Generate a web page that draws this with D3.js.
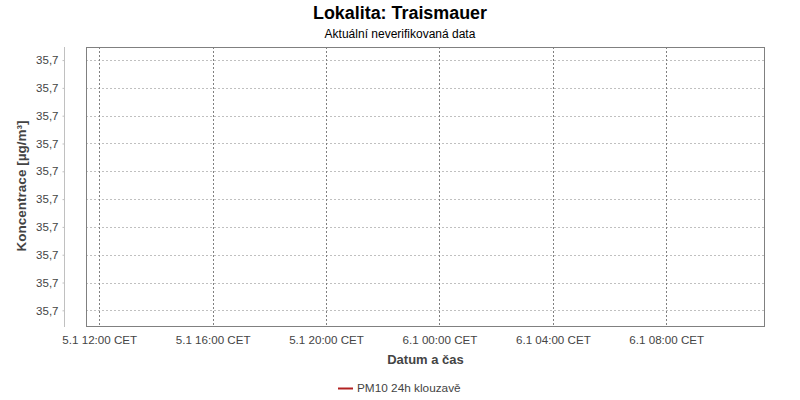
<!DOCTYPE html>
<html><head><meta charset="utf-8">
<script src="https://cdn.jsdelivr.net/npm/d3@7"></script>
<style>body{margin:0;background:#fff}svg{display:block;font-family:"Liberation Sans",Arial,sans-serif}</style>
</head><body><svg id="c" width="800" height="400"></svg>
<script>
const titleText = "Lokalita: Traismauer";
const subtitleText = "Aktuální neverifikovaná data";
const xTitle = "Datum a čas";
const yTitle = "Koncentrace [µg/m³]";
const seriesName = "PM10 24h klouzavě";
const timeStart = "2024-01-05T11:32:00";
const timeEnd = "2024-01-06T11:29:00";
const xTicks = ["2024-01-05T12:00:00","2024-01-05T16:00:00","2024-01-05T20:00:00","2024-01-06T00:00:00","2024-01-06T04:00:00","2024-01-06T08:00:00"];
const times = ["2024-01-06T11:00:00"];
const values = [35.7];
const yTicks = [35.6996,35.6997,35.6998,35.6999,35.7,35.7001,35.7002,35.7003,35.7004,35.7005];
const yDomain = [35.69954, 35.700547];

const svg = d3.select("#c");
const L = 86, R = 765, T = 47, B = 327;
const parse = d3.isoParse;
const x = d3.scaleTime().domain([parse(timeStart), parse(timeEnd)]).range([L, R]);
const y = d3.scaleLinear().domain(yDomain).range([B, T]);
const loc = d3.formatLocale({decimal: ",", thousands: " ", grouping: [3], currency: ["", ""]});
const yfmt = loc.format(".1f");
const xfmt = d => d.getDate() + "." + (d.getMonth() + 1) + " " + d3.timeFormat("%H:%M")(d) + " CET";

// title
svg.append("text").attr("x", 400).attr("y", 19).attr("text-anchor", "middle")
  .attr("font-size", 18).attr("font-weight", "bold").attr("fill", "#000")
  .attr("textLength", 174).attr("lengthAdjust", "spacingAndGlyphs").text(titleText);
svg.append("text").attr("x", 400).attr("y", 38).attr("text-anchor", "middle")
  .attr("font-size", 12).attr("fill", "#000").text(subtitleText);

// grid
const g = svg.append("g");
g.selectAll("line.h").data(yTicks).join("line")
  .attr("x1", L).attr("x2", R).attr("y1", d => Math.round(y(d)) + 0.5).attr("y2", d => Math.round(y(d)) + 0.5)
  .attr("stroke", "#c0c0c0").attr("stroke-dasharray", "2,2").attr("stroke-width", 1);
g.selectAll("line.v").data(xTicks.map(parse)).join("line")
  .attr("y1", T).attr("y2", B).attr("x1", d => Math.round(x(d)) + 0.5).attr("x2", d => Math.round(x(d)) + 0.5)
  .attr("stroke", "#808080").attr("stroke-dasharray", "2,2").attr("stroke-width", 1);

// plot border
svg.append("rect").attr("x", L + 0.5).attr("y", T + 0.5).attr("width", R - L - 1).attr("height", B - T - 1)
  .attr("fill", "none").attr("stroke", "#808080").attr("stroke-width", 1);

// series line
const line = d3.line().x((d, i) => x(parse(times[i]))).y(d => y(d));
svg.append("path").datum(values).attr("d", line).attr("fill", "none").attr("stroke", "#b22222").attr("stroke-width", 2);

// y axis
const yAxis = d3.axisLeft(y).tickValues(yTicks).tickFormat(yfmt).tickSize(2).tickPadding(4);
const ya = svg.append("g").attr("transform", "translate(64.5,0)").call(yAxis);
ya.select(".domain").attr("stroke", "#c0c0c0").attr("d", `M0,${T}V${B}`);
ya.selectAll(".tick line").attr("stroke", "#c0c0c0");
ya.selectAll("text").attr("font-size", 11.5).attr("fill", "#444").attr("font-family", "'Liberation Sans',Arial,sans-serif");

// x axis
const xAxis = d3.axisBottom(x).tickValues(xTicks.map(parse)).tickFormat(xfmt).tickSize(0).tickPadding(9);
const xa = svg.append("g").attr("transform", `translate(0,${B})`).call(xAxis);
xa.select(".domain").remove();
xa.selectAll("text").attr("font-size", 11.6).attr("fill", "#444").attr("font-family", "'Liberation Sans',Arial,sans-serif");

// axis titles
svg.append("text").attr("x", (L + R) / 2).attr("y", 364).attr("text-anchor", "middle")
  .attr("font-size", 13).attr("font-weight", "bold").attr("fill", "#444").text(xTitle);
svg.append("text").attr("transform", `translate(26,${(T + B) / 2 - 1}) rotate(-90)`).attr("text-anchor", "middle")
  .attr("font-size", 13.5).attr("font-weight", "bold").attr("fill", "#444").text(yTitle);

// legend
svg.append("line").attr("x1", 338).attr("x2", 353).attr("y1", 388.5).attr("y2", 388.5)
  .attr("stroke", "#b22222").attr("stroke-width", 2);
svg.append("text").attr("x", 357).attr("y", 392).attr("font-size", 11.8).attr("fill", "#444").text(seriesName);
</script></body></html>
